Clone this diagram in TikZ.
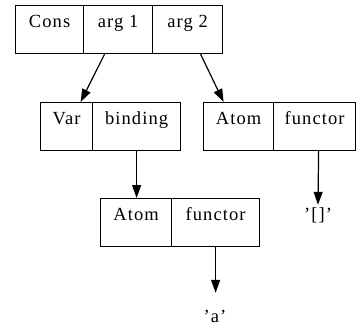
\documentclass[tikz,border=0pt]{standalone}
\usepackage{fontspec}
\setmainfont{Liberation Serif}[LetterSpace=6]
\usetikzlibrary{arrows.meta}
\begin{document}
\begin{tikzpicture}[x=1pt,y=-1pt,
  cell/.style={draw, line width=1.2pt, inner xsep=0pt, inner ysep=0pt,
    minimum height=48pt, text height=22pt, text depth=26pt,
    anchor=north west, font=\fontsize{18.5}{20}\selectfont},
  ptr/.style={-{Triangle[length=13pt,width=9pt]}, line width=1.2pt},
  lbl/.style={anchor=base, inner xsep=0pt, text height=12pt, text depth=0pt,
    font=\fontsize{18.5}{20}\selectfont}]
\useasboundingbox (0,0) rectangle (358,329);
% top record
\node[cell, minimum width=68pt] (cons) at (15,5) {Cons};
\node[cell, minimum width=69pt] (arg1) at (83,5) {arg 1};
\node[cell, minimum width=70pt] (arg2) at (152,5) {arg 2};
% Var record
\node[cell, minimum width=52pt] (var) at (40,102) {Var};
\node[cell, minimum width=88pt] (binding) at (92,102) {binding};
% right Atom record
\node[cell, minimum width=70pt] (atomR) at (203,102) {Atom};
\node[cell, minimum width=82pt] (functorR) at (273,102) {functor};
% lower Atom record
\node[cell, minimum width=71pt] (atomL) at (100,198) {Atom};
\node[cell, minimum width=88pt] (functorL) at (171,198) {functor};
% labels
\node[lbl, inner ysep=17pt] (qa) at (215,322) {'a'};
\node[lbl, inner ysep=3pt] (qnil) at (318,220) {'[]'};
% connectors
\draw[ptr] ([xshift=-13.5pt]arg1.south) -- ([xshift=14pt]var.north);
\draw[ptr] ([xshift=13pt]arg2.south) -- ([xshift=-15pt]atomR.north);
\draw[ptr] (binding.south) -- (binding.south |- atomL.north);
\draw[ptr] (functorL.south) -- (functorL.south |- qa.north);
\draw[ptr] ([xshift=4pt]functorR.south) -- (qnil.north);
\end{tikzpicture}
\end{document}
